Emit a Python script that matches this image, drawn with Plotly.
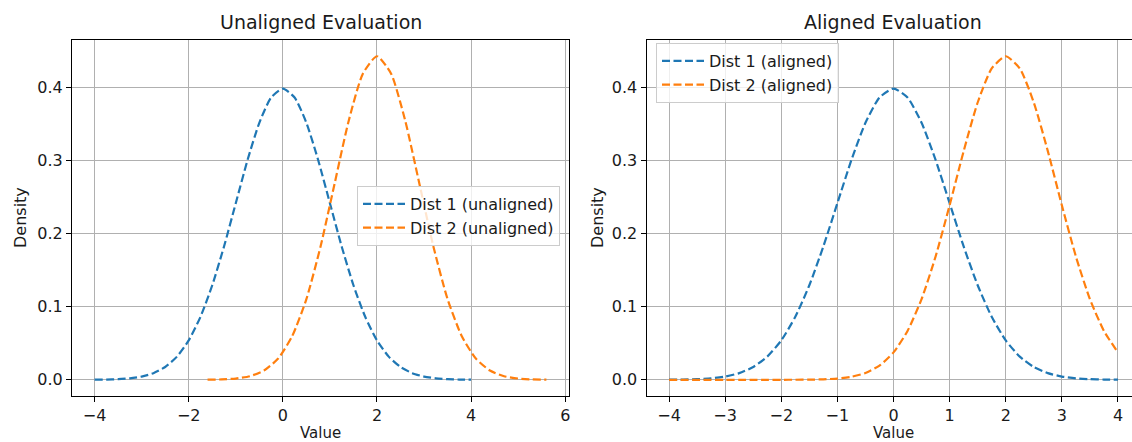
import plotly.graph_objects as go

# ---- data ----
x_std = [-4.0, -3.75, -3.5, -3.25, -3.0, -2.75, -2.5, -2.25, -2.0, -1.75, -1.5, -1.25, -1.0,
         -0.75, -0.5, -0.25, 0.0, 0.25, 0.5, 0.75, 1.0, 1.25, 1.5, 1.75, 2.0, 2.25, 2.5,
         2.75, 3.0, 3.25, 3.5, 3.75, 4.0]
dist1 = [0.00013, 0.00035, 0.00087, 0.00203, 0.00443, 0.00909, 0.01753, 0.03174, 0.05399,
         0.08628, 0.12952, 0.18265, 0.24197, 0.30114, 0.35207, 0.38667, 0.39894, 0.38667,
         0.35207, 0.30114, 0.24197, 0.18265, 0.12952, 0.08628, 0.05399, 0.03174, 0.01753,
         0.00909, 0.00443, 0.00203, 0.00087, 0.00035, 0.00013]

x_d2_unaligned = [-1.6, -1.3, -1.0, -0.7, -0.4, -0.1, 0.2, 0.5, 0.8, 1.1, 1.4, 1.7, 2.0,
                  2.3, 2.6, 2.9, 3.2, 3.5, 3.8, 4.1, 4.4, 4.7, 5.0, 5.3, 5.6]
dist2_unaligned = [0.00015, 0.00053, 0.00171, 0.00493, 0.01267, 0.02914, 0.06000, 0.11054,
                   0.18225, 0.26888, 0.35498, 0.41935, 0.44327, 0.41935, 0.35498, 0.26888,
                   0.18225, 0.11054, 0.06000, 0.02914, 0.01267, 0.00493, 0.00171, 0.00053,
                   0.00015]

dist2_aligned = [0.0, 0.0, 0.0, 0.0, 0.0, 0.0000004, 0.0000017, 0.0000064, 0.0000227,
                 0.000075, 0.00023, 0.00065, 0.00171, 0.00416, 0.00935, 0.01948, 0.03752,
                 0.06693, 0.11053, 0.16897, 0.23910, 0.31324, 0.37989, 0.42650, 0.44327,
                 0.42650, 0.37989, 0.31324, 0.23910, 0.16897, 0.11053, 0.06693, 0.03752]

titles = ["Unaligned Evaluation", "Aligned Evaluation"]
x_label = "Value"
y_label = "Density"
names_left = ["Dist 1 (unaligned)", "Dist 2 (unaligned)"]
names_right = ["Dist 1 (aligned)", "Dist 2 (aligned)"]

BLUE = "#1f77b4"
ORANGE = "#ff7f0e"
FONT = "DejaVu Sans"
DASH = "8px,3.5px"
TXT = "#1a1a1a"

fig = go.Figure()

def line(x, y, name, color, xa, ya, legend):
    return go.Scatter(x=x, y=y, name=name, mode="lines", xaxis=xa, yaxis=ya, legend=legend,
                      line=dict(color=color, width=2.2, dash=DASH, shape="spline", smoothing=0.6))

fig.add_trace(line(x_std, dist1, names_left[0], BLUE, "x", "y", "legend"))
fig.add_trace(line(x_d2_unaligned, dist2_unaligned, names_left[1], ORANGE, "x", "y", "legend"))
fig.add_trace(line(x_std, dist1, names_right[0], BLUE, "x2", "y2", "legend2"))
fig.add_trace(line(x_std, dist2_aligned, names_right[1], ORANGE, "x2", "y2", "legend2"))

W, H = 1132, 442
ydom = [1 - 396 / H, 1 - 40 / H]
L1, R1 = 72, 569
L2, R2 = 646.6, 1140
axis_common = dict(showgrid=True, gridcolor="#b0b0b0", gridwidth=1.2, zeroline=False,
                   showline=True, linecolor="black", linewidth=1.2, ticks="outside",
                   ticklen=5, tickwidth=1.2, tickcolor="black", automargin=False,
                   tickfont=dict(size=16, color=TXT))

yr = [-0.0222, 0.4655]

def ann(text, xpx, ypx, size, angle=0):
    return dict(text=text, x=xpx / W, y=1 - ypx / H, xref="paper", yref="paper",
                xanchor="center", yanchor="middle", showarrow=False, textangle=angle,
                font=dict(size=size, color=TXT))

fig.update_layout(
    width=W, height=H, margin=dict(l=0, r=0, t=0, b=0),
    paper_bgcolor="white", plot_bgcolor="white",
    font=dict(family=FONT, color=TXT, size=16),
    xaxis=dict(domain=[L1 / W, R1 / W], range=[-4.48, 6.08], tickvals=[-4, -2, 0, 2, 4, 6],
               mirror=True, anchor="y", **axis_common),
    yaxis=dict(domain=ydom, range=yr, tickvals=[0, 0.1, 0.2, 0.3, 0.4], tickformat=".1f",
               mirror=True, anchor="x", **axis_common),
    xaxis2=dict(domain=[L2 / W, 1.0], range=[-4.4, 4.25], tickvals=list(range(-4, 5)),
                mirror=True, anchor="y2", **axis_common),
    yaxis2=dict(domain=ydom, range=yr, tickvals=[0, 0.1, 0.2, 0.3, 0.4], tickformat=".1f",
                mirror=False, anchor="x2", **axis_common),
    legend=dict(x=357 / W, y=1 - 186 / H, xanchor="left", yanchor="top",
                bgcolor="rgba(255,255,255,0.8)", bordercolor="#cccccc", borderwidth=1,
                font=dict(size=16), tracegroupgap=0, itemwidth=42),
    legend2=dict(x=656 / W, y=1 - 43 / H, xanchor="left", yanchor="top",
                 bgcolor="rgba(255,255,255,0.8)", bordercolor="#cccccc", borderwidth=1,
                 font=dict(size=16), tracegroupgap=0, itemwidth=42),
    annotations=[
        ann(titles[0], (L1 + R1) / 2, 22, 19),
        ann(titles[1], (L2 + R2) / 2, 22, 19),
        ann(x_label, (L1 + R1) / 2, 433, 15),
        ann(x_label, (L2 + R2) / 2, 433, 15),
        ann(y_label, 20, 218, 16, -90),
        ann(y_label, 597, 218, 16, -90),
    ],
)

fig.write_html("out.html")
